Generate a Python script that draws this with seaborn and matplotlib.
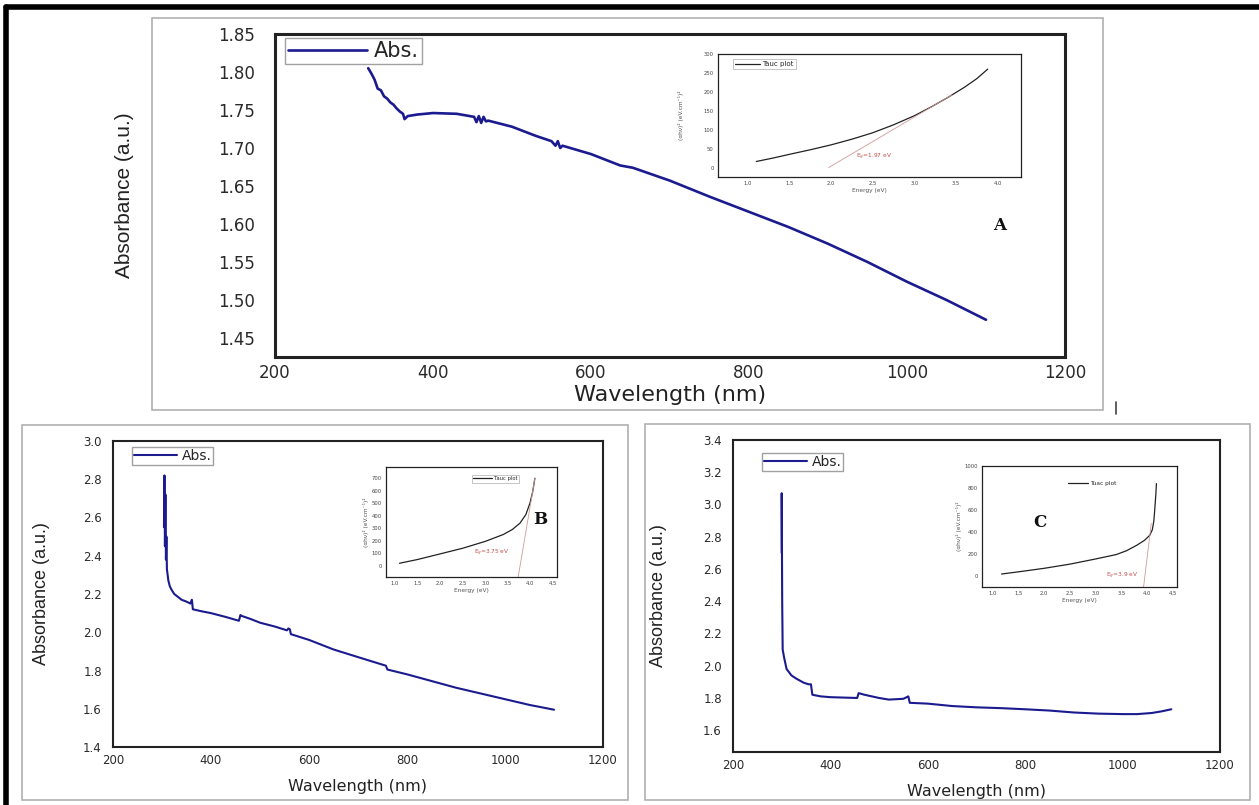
import numpy as np
import pandas as pd
import matplotlib
matplotlib.use("Agg")
import matplotlib.pyplot as plt
from matplotlib.patches import Rectangle
from matplotlib.lines import Line2D
from matplotlib.ticker import MultipleLocator, FormatStrFormatter
import seaborn as sns

sns.set_theme(style="white")
plt.rcParams["font.family"] = ["DejaVu Sans"]

LINE = "#1b1b8f"
LABEL_FONT = ["Liberation Sans", "DejaVu Sans"]

# ---- panel A: absorbance ----
a_wl = [318, 322, 326, 330, 334, 338, 342, 346, 350, 354, 358, 362, 364, 368, 380, 400, 430,
        452, 455, 458, 461, 464, 467, 470, 500, 530, 550, 555, 558, 561, 564, 600, 637, 653,
        700, 750, 800, 850, 900, 950, 1000, 1050, 1100]
a_abs = [1.805, 1.798, 1.790, 1.778, 1.776, 1.768, 1.765, 1.760, 1.757, 1.752, 1.748, 1.745, 1.738,
         1.742, 1.744, 1.746, 1.745, 1.741, 1.734, 1.742, 1.733, 1.741, 1.735, 1.736, 1.728, 1.716,
         1.709, 1.703, 1.709, 1.700, 1.703, 1.692, 1.677, 1.674, 1.657, 1.636, 1.616, 1.596, 1.574,
         1.550, 1.524, 1.500, 1.474]

# ---- panel B: absorbance ----
b_wl = [304, 305, 306, 307, 308, 309, 310, 313, 316, 320, 325, 330, 340, 350, 358, 361, 363, 380,
        400, 430, 457, 460, 463, 480, 500, 530, 555, 558, 561, 563, 600, 650, 700, 757, 760, 800,
        850, 900, 950, 1000, 1050, 1100]
b_abs = [2.55, 2.82, 2.45, 2.72, 2.38, 2.50, 2.33, 2.27, 2.24, 2.22, 2.20, 2.19, 2.17, 2.16, 2.15,
         2.17, 2.12, 2.11, 2.10, 2.08, 2.06, 2.09, 2.085, 2.07, 2.05, 2.03, 2.01, 2.02, 2.015, 1.99,
         1.96, 1.91, 1.87, 1.825, 1.805, 1.78, 1.745, 1.71, 1.68, 1.65, 1.62, 1.595]

# ---- panel C: absorbance ----
c_wl = [300, 300, 301, 302, 305, 310, 320, 330, 345, 355, 360, 363, 380, 400, 455, 458, 470,
        500, 520, 550, 560, 563, 600, 650, 700, 750, 800, 850, 900, 950, 1000, 1030, 1060, 1080,
        1100]
c_abs = [2.70, 3.07, 2.40, 2.10, 2.05, 1.98, 1.94, 1.92, 1.895, 1.885, 1.885, 1.82, 1.81, 1.805,
         1.80, 1.83, 1.82, 1.80, 1.79, 1.795, 1.81, 1.77, 1.765, 1.75, 1.742, 1.737, 1.73, 1.722,
         1.71, 1.703, 1.70, 1.70, 1.707, 1.717, 1.73]

# ---- Tauc insets ----
ta_e = [1.1, 1.3, 1.5, 1.75, 2.0, 2.25, 2.5, 2.75, 3.0, 3.2, 3.4, 3.6, 3.75, 3.88]
ta_v = [16, 25, 35, 47, 60, 75, 92, 113, 137, 160, 185, 212, 235, 260]
ta_fit_e = [1.97, 3.45]
ta_fit_v = [0, 192]

tb_e = [1.1, 1.5, 2.0, 2.5, 3.0, 3.4, 3.6, 3.77, 3.9, 3.99, 4.05, 4.1]
tb_v = [20, 50, 95, 140, 195, 250, 290, 341, 410, 500, 590, 700]
tb_fit_e = [3.73, 4.1]
tb_fit_v = [-90, 700]

tc_e = [1.17, 1.5, 2.0, 2.5, 3.0, 3.4, 3.6, 3.8, 3.95, 4.05, 4.1, 4.13, 4.15, 4.17, 4.18]
tc_v = [18, 38, 70, 108, 155, 195, 230, 280, 325, 370, 420, 500, 620, 750, 840]
tc_fit_e = [3.93, 4.08]
tc_fit_v = [-100, 480]

W, H = 1259, 805


def box(l, t, r, b):
    # pixel box -> figure fraction rect
    return [l / W, 1 - b / H, (r - l) / W, (b - t) / H]


fig = plt.figure(figsize=(W / 100, H / 100), dpi=100)
fig.patch.set_facecolor("white")

# panel frames
for (l, t, r, b) in [(152, 18, 1103, 410), (22, 425, 628, 800), (645, 424, 1250, 800)]:
    fig.patches.append(Rectangle((l / W, 1 - b / H), (r - l) / W, (b - t) / H,
                                 transform=fig.transFigure, fill=False,
                                 edgecolor="#b0b0b0", lw=1.2))
# outer black border (left and top)
fig.lines.append(Line2D([6 / W, 6 / W], [0, 1 - 7 / H], transform=fig.transFigure, color="black", lw=4))
fig.lines.append(Line2D([6 / W, 1], [1 - 7 / H, 1 - 7 / H], transform=fig.transFigure, color="black", lw=4))
fig.lines.append(Line2D([1116 / W, 1116 / W], [1 - 402 / H, 1 - 414 / H], transform=fig.transFigure,
                        color="#444444", lw=1.2))


def main_axes(rect, wl, ab, ylim, ymaj, big, leg_xy, ylab_x):
    ax = fig.add_axes(rect)
    df = pd.DataFrame({"wl": wl, "abs": ab})
    sns.lineplot(data=df, x="wl", y="abs", ax=ax, color=LINE, lw=1.9 if big else 1.5,
                 estimator=None, sort=False, label="Abs.")
    ax.set_xlim(200, 1200)
    ax.set_ylim(*ylim)
    ax.xaxis.set_major_locator(MultipleLocator(200))
    ax.xaxis.set_minor_locator(MultipleLocator(100))
    ax.yaxis.set_major_locator(MultipleLocator(ymaj))
    ax.yaxis.set_minor_locator(MultipleLocator(ymaj / 2))
    ax.tick_params(which="both", direction="out", colors="#2a2a2a",
                   labelsize=12 if big else 8.5, top=False, right=False)
    if big:
        ax.tick_params(axis="y", which="major", length=9, width=1.3, pad=5.5)
        ax.tick_params(axis="y", which="minor", length=4.5, width=1.1)
        ax.tick_params(axis="x", which="major", length=3.5, width=1.3, pad=1.5)
        ax.tick_params(axis="x", which="minor", length=2, width=1.1)
    else:
        ax.tick_params(axis="y", which="major", length=4.5, width=1, pad=3.5)
        ax.tick_params(axis="y", which="minor", length=2.5, width=0.9)
        ax.tick_params(axis="x", which="major", length=2.5, width=1, pad=2.5)
        ax.tick_params(axis="x", which="minor", length=1.5, width=0.9)
    for s in ax.spines.values():
        s.set_color("#222222")
        s.set_linewidth(2.2 if big else 1.5)
    ax.set_xlabel("Wavelength (nm)", fontsize=16 if big else 11.5, color="#222222",
                  labelpad=2 if big else 9)
    ax.set_ylabel("Absorbance (a.u.)", fontsize=15 if big else 13, color="#222222",
                  family=LABEL_FONT)
    ax.yaxis.set_label_coords(ylab_x, 0.5)
    leg = ax.legend(loc="upper left", bbox_to_anchor=leg_xy, borderaxespad=0,
                    fontsize=15 if big else 10, frameon=True, fancybox=False,
                    handlelength=3.8 if big else 3.1, borderpad=0.15, handletextpad=0.3)
    leg.get_frame().set_edgecolor("#8a8a8a")
    leg.get_frame().set_linewidth(1)
    return ax


ax_a = main_axes(box(275, 34, 1065, 357), a_wl, a_abs, (1.425, 1.85), 0.05, True,
                 (0.0127, 0.988), -0.178)
ax_a.yaxis.set_major_formatter(FormatStrFormatter("%.2f"))
ax_b = main_axes(box(113, 441, 603, 747), b_wl, b_abs, (1.4, 3.0), 0.2, False,
                 (0.039, 0.98), -0.129)
ax_c = main_axes(box(733, 440, 1220, 752), c_wl, c_abs, (1.465, 3.4), 0.2, False,
                 (0.06, 0.958), -0.136)
for ax in (ax_b, ax_c):
    ax.yaxis.set_major_formatter(FormatStrFormatter("%.1f"))


def tauc_axes(rect, e, v, fe, fv, xlim, ylim, ymaj, eg_text, eg_xy, leg_label, leg_xy,
              leg_fs, leg_frame, ylab_pad):
    ax = fig.add_axes(rect)
    sns.lineplot(x=e, y=v, ax=ax, color="#222222", lw=0.9, estimator=None, sort=False,
                 label=leg_label)
    ax.plot(fe, fv, color="#d09a9a", lw=0.6)
    ax.set_xlim(*xlim)
    ax.set_ylim(*ylim)
    ax.xaxis.set_major_locator(MultipleLocator(0.5))
    ax.xaxis.set_minor_locator(MultipleLocator(0.25))
    ax.yaxis.set_major_locator(MultipleLocator(ymaj))
    ax.yaxis.set_minor_locator(MultipleLocator(ymaj / 2))
    ax.tick_params(which="both", direction="out", labelsize=3.8, colors="#444444",
                   top=False, right=False, pad=1)
    ax.tick_params(which="major", length=2, width=0.6)
    ax.tick_params(which="minor", length=1, width=0.5)
    ax.xaxis.set_major_formatter(FormatStrFormatter("%.1f"))
    for s in ax.spines.values():
        s.set_color("#222222")
        s.set_linewidth(0.9)
    ax.set_xlabel("Energy (eV)", fontsize=4.2, color="#555555", labelpad=1.5)
    ax.set_ylabel("(αhν)² (eV.cm⁻¹)²", fontsize=4.2, color="#555555", labelpad=ylab_pad)
    ax.text(eg_xy[0], eg_xy[1], eg_text, fontsize=4.2, color="#c0504d", va="center")
    leg = ax.legend(loc="upper left", bbox_to_anchor=leg_xy, borderaxespad=0,
                    fontsize=leg_fs, frameon=leg_frame, fancybox=False, handlelength=3.5,
                    borderpad=0.3, handletextpad=0.4)
    if leg_frame:
        leg.get_frame().set_edgecolor("#999999")
        leg.get_frame().set_linewidth(0.5)
    return ax


tauc_axes(box(718, 54, 1021, 177), ta_e, ta_v, ta_fit_e, ta_fit_v, (0.64, 4.28), (-25, 300), 50,
          "E$_g$=1.97 eV", (2.3, 29), "Tauc plot", (0.05, 0.96), 5, True, 14)
tauc_axes(box(386, 467, 557, 577), tb_e, tb_v, tb_fit_e, tb_fit_v, (0.8, 4.59), (-90, 790), 100,
          "E$_g$=3.75 eV", (2.75, 105), "Tauc plot", (0.5, 0.93), 3.8, True, 2)
tauc_axes(box(982, 466, 1177, 587), tc_e, tc_v, tc_fit_e, tc_fit_v, (0.79, 4.58), (-100, 1000), 200,
          "E$_g$=3.9 eV", (3.2, 0), "Tuac plot", (0.43, 0.89), 4.2, False, 2)

# panel letters
for x, y, s in [(1000, 225, "A"), (540, 520, "B"), (1040, 522, "C")]:
    fig.text(x / W, 1 - y / H, s, fontsize=12, fontweight="bold", family="DejaVu Serif",
             ha="center", va="center", color="#111111")

fig.savefig("out.png", dpi=100)
